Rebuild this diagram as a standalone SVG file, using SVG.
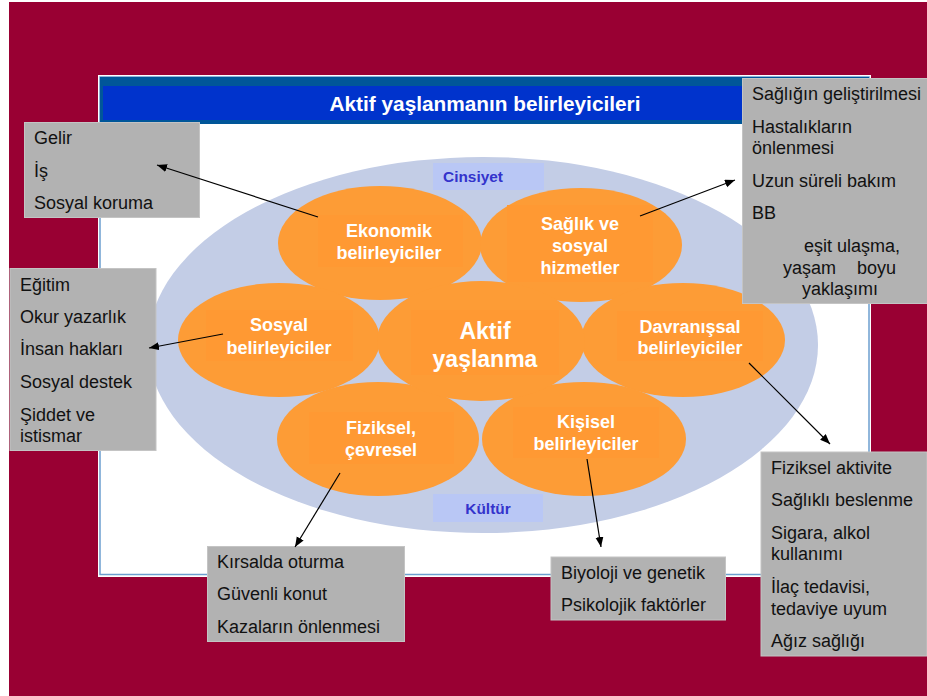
<svg xmlns="http://www.w3.org/2000/svg" width="927" height="696" viewBox="0 0 927 696">
<style>
text{font-family:"Liberation Sans",Arial,sans-serif}
.box{fill:#b2b2b2;stroke:#c4c4c4;stroke-width:1}
.t{font-size:18px;fill:#111}
.e{fill:#fd9c36}
.r{fill:#ff9933}
.w{font-size:18px;font-weight:bold;fill:#fff;text-anchor:middle}
.tag{fill:#b9c7f5}
.k{font-size:15.400px;font-weight:bold;fill:#3333cc;text-anchor:middle}
.c{stroke:#000;stroke-width:1.200;fill:none;marker-end:url(#a)}
</style>
<defs><marker id="a" markerUnits="userSpaceOnUse" markerWidth="12" markerHeight="10" refX="10" refY="4" orient="auto"><path d="M0 0L10 4L0 8Z" fill="#000"/></marker></defs>
<rect width="927" height="696" fill="#fff"/>
<rect x="9" y="2" width="918" height="694" fill="#990033"/>
<g id="frame">
<rect x="98" y="75" width="773" height="502" fill="#fff"/>
<rect x="100" y="77" width="769" height="497.500" fill="#fff" stroke="#6c9fcf" stroke-width="1.500"/>
<rect x="100" y="77" width="769" height="47" fill="#005699"/>
<rect x="103" y="86" width="763" height="34" fill="#0033cc"/>
<text x="485" y="111" text-anchor="middle" font-size="20.800" font-weight="bold" fill="#fff">Aktif yaşlanmanın belirleyicileri</text>
</g>
<g id="background-ellipse"><ellipse cx="483" cy="345" rx="335" ry="188" fill="#c3cde6"/></g>
<g id="cinsiyet"><rect class="tag" x="433" y="163" width="111" height="27"/><text class="k" x="473" y="182">Cinsiyet</text></g>
<g id="kultur"><rect class="tag" x="433" y="494" width="110" height="28"/><text class="k" x="488" y="514">Kültür</text></g>
<g id="ekonomik"><ellipse class="e" cx="380" cy="243" rx="102" ry="57"/><rect class="r" x="318" y="215" width="145" height="52"/><text class="w"><tspan x="389" y="237">Ekonomik</tspan><tspan x="389" y="259">belirleyiciler</tspan></text></g>
<g id="saglik"><ellipse class="e" cx="581" cy="245" rx="101" ry="57"/><rect class="r" x="507" y="205" width="146" height="77"/><text class="w"><tspan x="580" y="230">Sağlık ve</tspan><tspan x="580" y="252">sosyal</tspan><tspan x="580" y="274">hizmetler</tspan></text></g>
<g id="sosyal"><ellipse class="e" cx="279" cy="340" rx="101" ry="57"/><rect class="r" x="206" y="310" width="147" height="51"/><text class="w"><tspan x="279" y="331">Sosyal</tspan><tspan x="279" y="354">belirleyiciler</tspan></text></g>
<g id="davranissal"><ellipse class="e" cx="683" cy="340" rx="102" ry="57"/><rect class="r" x="617" y="311" width="146" height="50"/><text class="w"><tspan x="690" y="333">Davranışsal</tspan><tspan x="690" y="354">belirleyiciler</tspan></text></g>
<g id="fiziksel"><ellipse class="e" cx="378" cy="439" rx="101" ry="57"/><rect class="r" x="309" y="412" width="145" height="52"/><text class="w"><tspan x="381" y="434">Fiziksel,</tspan><tspan x="381" y="456">çevresel</tspan></text></g>
<g id="kisisel"><ellipse class="e" cx="584" cy="439" rx="102" ry="57"/><rect class="r" x="513" y="407" width="146" height="51"/><text class="w"><tspan x="586" y="428">Kişisel</tspan><tspan x="586" y="450">belirleyiciler</tspan></text></g>
<g id="aktif"><ellipse class="e" cx="481" cy="341" rx="104" ry="60"/><rect class="r" x="411" y="310" width="148" height="65"/><text class="w" style="font-size:23px"><tspan x="485" y="339">Aktif</tspan><tspan x="485" y="367">yaşlanma</tspan></text></g>
<g id="box-gelir"><rect class="box" x="24.500" y="122.500" width="175" height="95"/><text class="t"><tspan x="34" y="144">Gelir</tspan><tspan x="34" y="177">İş</tspan><tspan x="34" y="209">Sosyal koruma</tspan></text></g>
<g id="box-saglik"><rect class="box" x="742.500" y="78.500" width="185" height="225"/><text class="t"><tspan x="752" y="100">Sağlığın geliştirilmesi</tspan><tspan x="752" y="133">Hastalıkların</tspan><tspan x="752" y="154">önlenmesi</tspan><tspan x="752" y="187">Uzun süreli bakım</tspan><tspan x="752" y="219">BB</tspan><tspan x="804" y="252">eşit ulaşma,</tspan><tspan x="783" y="274">yaşam</tspan><tspan x="857" y="274">boyu</tspan><tspan x="802" y="295">yaklaşımı</tspan></text></g>
<g id="box-egitim"><rect class="box" x="10" y="268.500" width="146" height="182"/><text class="t"><tspan x="20" y="291">Eğitim</tspan><tspan x="20" y="323">Okur yazarlık</tspan><tspan x="20" y="355">İnsan hakları</tspan><tspan x="20" y="388">Sosyal destek</tspan><tspan x="20" y="421">Şiddet ve</tspan><tspan x="20" y="442">istismar</tspan></text></g>
<g id="box-fiziksel"><rect class="box" x="761" y="452" width="166" height="204"/><text class="t"><tspan x="771" y="474">Fiziksel aktivite</tspan><tspan x="771" y="506">Sağlıklı beslenme</tspan><tspan x="771" y="539">Sigara, alkol</tspan><tspan x="771" y="560">kullanımı</tspan><tspan x="771" y="593">İlaç tedavisi,</tspan><tspan x="771" y="615">tedaviye uyum</tspan><tspan x="771" y="647">Ağız sağlığı</tspan></text></g>
<g id="box-kirsal"><rect class="box" x="207.500" y="546.500" width="197" height="95"/><text class="t"><tspan x="217" y="568">Kırsalda oturma</tspan><tspan x="217" y="600">Güvenli konut</tspan><tspan x="217" y="633">Kazaların önlenmesi</tspan></text></g>
<g id="box-biyoloji"><rect class="box" x="551" y="557" width="174.500" height="63"/><text class="t"><tspan x="561" y="579">Biyoloji ve genetik</tspan><tspan x="561" y="611">Psikolojik faktörler</tspan></text></g>
<g id="connectors">
<line class="c" x1="318" y1="217" x2="157" y2="165"/>
<line class="c" x1="640" y1="216" x2="735" y2="180"/>
<line class="c" x1="223" y1="334" x2="149" y2="348"/>
<line class="c" x1="749" y1="363" x2="830" y2="444"/>
<line class="c" x1="340" y1="473" x2="295" y2="547"/>
<line class="c" x1="587" y1="459" x2="601" y2="547"/>
</g>
</svg>
